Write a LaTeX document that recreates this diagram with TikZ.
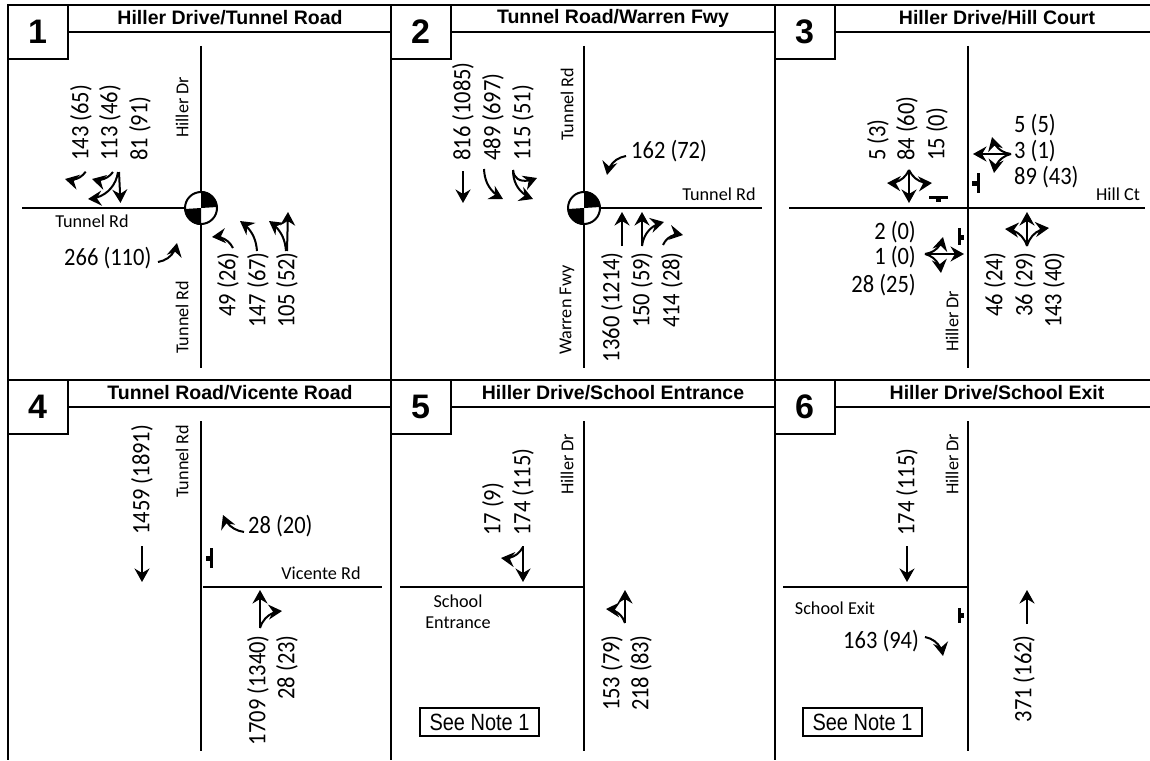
\documentclass[tikz,border=0pt]{standalone}
\usepackage{xcolor}
\usepackage{fontspec}
\setmainfont{Liberation Sans}
\newfontfamily\volfont[FakeStretch=0.9]{Carlito}
\newfontfamily\roadfont{Carlito}
\newfontfamily\notefont[FakeStretch=0.85]{Liberation Sans}
\usetikzlibrary{arrows.meta, bending}

\begin{document}
\begin{tikzpicture}[
    x=1pt, y=-1pt,
    frame/.style={draw, line width=2pt},
    numbox/.style={rectangle, draw, line width=2pt, minimum width=60pt, minimum height=54.5pt, inner sep=0pt, font=\fontsize{34}{36}\selectfont\bfseries},
    headtext/.style={inner sep=0pt, font=\fontsize{19.5}{21}\selectfont\bfseries},
    roadline/.style={draw, line width=2pt},
    roadname/.style={inner sep=0pt, font=\roadfont\fontsize{18.2}{20}\selectfont},
    roadup/.style={roadname, rotate=90, anchor=west},
    vol/.style={inner sep=0pt, font=\volfont\fontsize{25}{27}\selectfont},
    volup/.style={vol, rotate=90, anchor=west},
    voldn/.style={vol, rotate=90, anchor=east},
    signal/.style={circle, draw, line width=2pt, fill=white, minimum size=32pt, inner sep=0pt},
    notebox/.style={rectangle, draw, line width=1.5pt, minimum width=119pt, minimum height=28pt, inner sep=0pt, font=\notefont\fontsize{23.5}{25}\selectfont},
    arrow/.style={-{Stealth[length=13.5pt,width=15pt,inset=4.5pt,flex=0.2]}, line width=2pt},
    stopbar/.style={draw, line width=3pt},
    stopstub/.style={draw, line width=5pt}
]

\useasboundingbox (0,0) rectangle (1150,760);

% panel frames
\draw[frame] (7.5,5) -- (1150,5);
\draw[frame] (7.5,380) -- (1150,380);
\draw[frame] (7.5,5) -- (7.5,760);
\draw[frame] (391,5) -- (391,760);
\draw[frame] (775,5) -- (775,760);
\foreach \n/\cx/\cy/\len in {1/37.5/32/324, 2/420.5/32/325, 3/804.5/32/316, 4/37.5/407/324, 5/420.5/407/325, 6/804.5/407/316}{
    \node[numbox, fill=white] (box\n) at (\cx,\cy) {\n};
    \draw[frame] (box\n.east) -- ++(\len,0);
}
\node[headtext] (head1) at (230,18) {Hiller Drive/Tunnel Road};
\node[headtext] (head2) at (613,18) {Tunnel Road/Warren Fwy};
\node[headtext] (head3) at (997,18) {Hiller Drive/Hill Court};
\node[headtext] (head4) at (230,393) {Tunnel Road/Vicente Road};
\node[headtext] (head5) at (613,393) {Hiller Drive/School Entrance};
\node[headtext] (head6) at (997,393) {Hiller Drive/School Exit};

% roads
\draw[roadline] (201,46) -- (201,368);
\draw[roadline] (22,208) -- (201,208);
\draw[roadline] (584,46) -- (584,368);
\draw[roadline] (584,208) -- (762,208);
\draw[roadline] (968,46) -- (968,368);
\draw[roadline] (789,208) -- (1145,208);
\draw[roadline] (201,421) -- (201,751);
\draw[roadline] (203,587) -- (382,587);
\draw[roadline] (584,421) -- (584,751);
\draw[roadline] (400,587) -- (584,587);
\draw[roadline] (968,421) -- (968,751);
\draw[roadline] (783,587) -- (968,587);

% signals
\foreach \n/\cx in {1/201, 2/584}{
    \node[signal] (sig\n) at (\cx,208) {};
    \fill (sig\n.center) -- (sig\n.north) arc[start angle=90, end angle=0, radius=16pt] -- cycle;
    \fill (sig\n.center) -- (sig\n.south) arc[start angle=270, end angle=180, radius=16pt] -- cycle;
}

% stop bars
\draw[stopbar] (929,197.5) -- (948,197.5);
\draw[stopstub] (938.5,197) -- (938.5,202);
\draw[stopbar] (978,173) -- (978,193);
\draw[stopstub] (978,183) -- (972,183);
\draw[stopbar] (959,228) -- (959,245);
\draw[stopstub] (959,237) -- (964,237);
\draw[stopbar] (211,548) -- (211,568);
\draw[stopstub] (211,558) -- (206,558);
\draw[stopbar] (959,608) -- (959,623);
\draw[stopstub] (959,615.5) -- (964,615.5);

% panel 1
\node[roadup] (r1a) at (182,138) {Hiller Dr};
\node[roadup] (r1b) at (182,354) {Tunnel Rd};
\node[roadname] (r1c) at (92,221) {Tunnel Rd};
\node[volup] (v1a) at (81,161) {143 (65)};
\node[volup] (v1b) at (110,161) {113 (46)};
\node[volup] (v1c) at (140,161) {81 (91)};
\node[vol, anchor=west] (v1d) at (64,258) {266 (110)};
\node[voldn] (v1e) at (228,252) {49 (26)};
\node[voldn] (v1f) at (258,252) {147 (67)};
\node[voldn] (v1g) at (287,252) {105 (52)};
\draw[arrow] (85.7,171.7) to[bend left=35] (65,179);
\draw[arrow] (113,172) to[bend left=35] (92,179);
\draw[arrow] (119,172) -- (120.5,203);
\draw[arrow] (118,172) to[bend left=40] (88,199);
\draw[arrow] (158,262) to[bend right=35] (177,243);
\draw[arrow] (233,248) to[bend right=35] (212,237);
\draw[arrow] (257,251) to[bend right=25] (240,221);
\draw[arrow] (287,251) -- (288,212);
\draw[arrow] (286,251) to[bend right=25] (269,221);

% panel 2
\node[roadup] (r2a) at (567,141) {Tunnel Rd};
\node[roadup] (r2b) at (567,355) {Warren Fwy};
\node[roadname] (r2c) at (719,194) {Tunnel Rd};
\node[volup] (v2a) at (463,161) {816 (1085)};
\node[volup] (v2b) at (493,161) {489 (697)};
\node[volup] (v2c) at (523,161) {115 (51)};
\node[vol, anchor=west] (v2d) at (631,151) {162 (72)};
\node[voldn] (v2e) at (612,252) {1360 (1214)};
\node[voldn] (v2f) at (642,252) {150 (59)};
\node[voldn] (v2g) at (672,252) {414 (28)};
\draw[arrow] (463,171) -- (463,203);
\draw[arrow] (484,169) to[bend right=30] (503,199);
\draw[arrow] (513,170) .. controls (514,180) and (522,184) .. (537,178);
\draw[arrow] (513,170) to[bend right=35] (533,199);
\draw[arrow] (626,156) to[bend right=35] (607,175);
\draw[arrow] (622,246) -- (622,212);
\draw[arrow] (642,246) -- (642,212);
\draw[arrow] (642,246) to[bend left=35] (664,222);
\draw[arrow] (663,245) to[bend left=40] (683,235);

% panel 3
\node[roadup] (r3a) at (952,352) {Hiller Dr};
\node[roadname] (r3b) at (1118,194) {Hill Ct};
\node[volup] (v3a) at (878,161) {5 (3)};
\node[volup] (v3b) at (907,161) {84 (60)};
\node[volup] (v3c) at (937,161) {15 (0)};
\node[vol, anchor=west] (v3d) at (1014,125) {5 (5)};
\node[vol, anchor=west] (v3e) at (1014,151) {3 (1)};
\node[vol, anchor=west] (v3f) at (1014,177) {89 (43)};
\node[vol, anchor=east] (v3g) at (916,232) {2 (0)};
\node[vol, anchor=east] (v3h) at (916,257) {1 (0)};
\node[vol, anchor=east] (v3i) at (916,285) {28 (25)};
\node[voldn] (v3j) at (995,252) {46 (24)};
\node[voldn] (v3k) at (1025,252) {36 (29)};
\node[voldn] (v3l) at (1054,252) {143 (40)};
\draw[arrow] (909,170) -- (909,203);
\draw[arrow] (909,170) to[bend left=35] (887,183);
\draw[arrow] (909,170) to[bend right=35] (932,183);
\draw[arrow] (1011,154) -- (973,154);
\draw[arrow] (1011,154) to[bend left=35] (992,137);
\draw[arrow] (1011,154) to[bend right=35] (994,173);
\draw[arrow] (925,254) -- (964,254);
\draw[arrow] (925,254) to[bend right=35] (943,237);
\draw[arrow] (925,254) to[bend left=35] (941,273);
\draw[arrow] (1027,246) -- (1027,212);
\draw[arrow] (1027,246) to[bend right=35] (1005,229);
\draw[arrow] (1027,246) to[bend left=35] (1049,228);

% panel 4
\node[roadup] (r4a) at (182,498) {Tunnel Rd};
\node[roadname] (r4b) at (321,573) {Vicente Rd};
\node[volup] (v4a) at (142,535) {1459 (1891)};
\node[vol, anchor=west] (v4b) at (248,526) {28 (20)};
\node[voldn] (v4c) at (258,635) {1709 (1340)};
\node[voldn] (v4d) at (287,635) {28 (23)};
\draw[arrow] (142,546) -- (142,582);
\draw[arrow] (244,532) to[bend left=30] (223,515);
\draw[arrow] (260,628) -- (260,590);
\draw[arrow] (260,628) to[bend left=35] (282,611);

% panel 5
\node[roadup] (r5a) at (567,495) {Hiller Dr};
\node[roadname] (r5b) at (458,601) {School};
\node[roadname] (r5c) at (458,623) {Entrance};
\node[volup] (v5a) at (493,536) {17 (9)};
\node[volup] (v5b) at (523,536) {174 (115)};
\node[voldn] (v5c) at (612,635) {153 (79)};
\node[voldn] (v5d) at (641,635) {218 (83)};
\node[notebox] (note5) at (479.5,722) {See Note 1};
\draw[arrow] (523,546) -- (523,582);
\draw[arrow] (523,547) to[bend left=35] (501,558);
\draw[arrow] (625,623) -- (625,590);
\draw[arrow] (625,623) to[bend right=35] (606,609);

% panel 6
\node[roadup] (r6a) at (952,495) {Hiller Dr};
\node[roadname] (r6b) at (835,608) {School Exit};
\node[volup] (v6a) at (907,536) {174 (115)};
\node[vol, anchor=west] (v6b) at (843,641) {163 (94)};
\node[voldn] (v6c) at (1024,635) {371 (162)};
\node[notebox] (note6) at (862.5,722) {See Note 1};
\draw[arrow] (907,546) -- (907,582);
\draw[arrow] (925,637) to[bend left=35] (943,656);
\draw[arrow] (1027,624) -- (1027,590);

\end{tikzpicture}
\end{document}
